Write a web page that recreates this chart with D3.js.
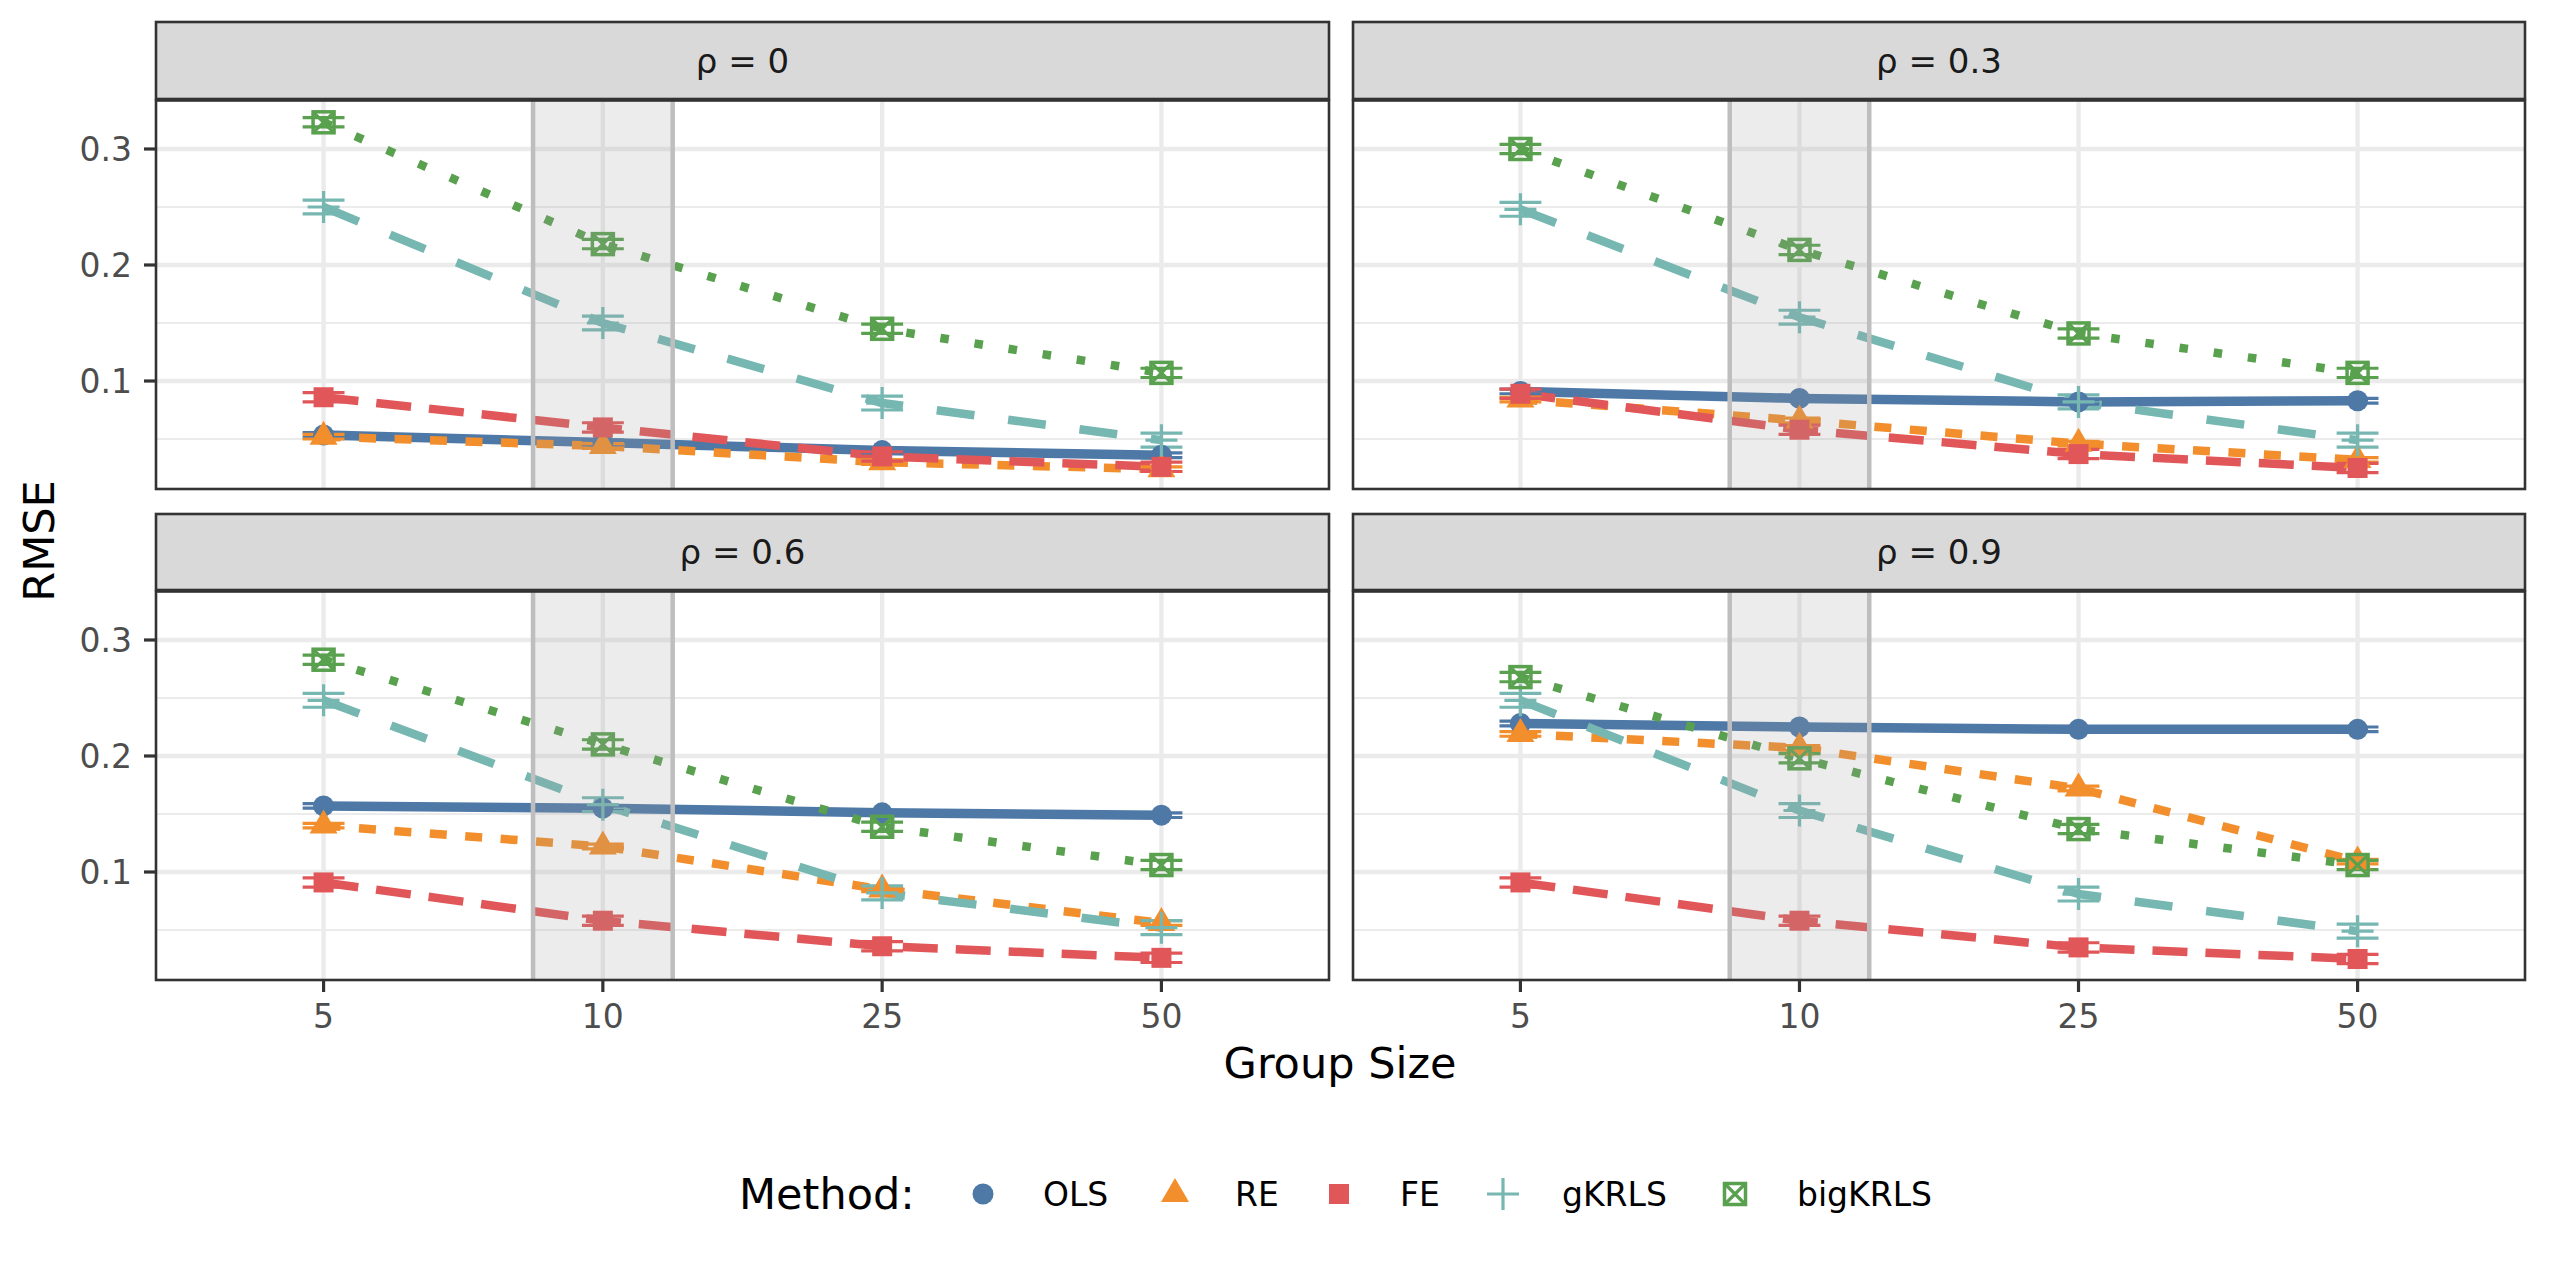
<!DOCTYPE html>
<html>
<head>
<meta charset="utf-8">
<script src="https://cdn.jsdelivr.net/npm/d3@7"></script>
<style>
  html, body { margin: 0; padding: 0; background: #ffffff; }
  svg { display: block; font-family: "DejaVu Sans", sans-serif; }
</style>
</head>
<body>
<svg id="chart" width="2550" height="1275"></svg>
<script>
// ---------------- DATA ----------------
const groupSizes = ["5", "10", "25", "50"];
const rhoLabels = ["ρ = 0", "ρ = 0.3", "ρ = 0.6", "ρ = 0.9"];
const methods = ["OLS", "RE", "FE", "gKRLS", "bigKRLS"];
const yTicks = [0.1, 0.2, 0.3];
const yMinorTicks = [0.05, 0.15, 0.25];
const highlightGroup = "10";

// RMSE by rho (rows) and group size (columns)
const olsRMSE = [
  [0.0535, 0.047, 0.040, 0.036],
  [0.091, 0.085, 0.082, 0.083],
  [0.157, 0.155, 0.151, 0.149],
  [0.228, 0.225, 0.223, 0.223]
];
const reRMSE = [
  [0.052, 0.044, 0.030, 0.024],
  [0.084, 0.066, 0.046, 0.032],
  [0.140, 0.122, 0.085, 0.056],
  [0.219, 0.207, 0.172, 0.109]
];
const feRMSE = [
  [0.086, 0.060, 0.035, 0.026],
  [0.089, 0.058, 0.037, 0.025],
  [0.091, 0.058, 0.036, 0.026],
  [0.091, 0.058, 0.035, 0.025]
];
const gkrlsRMSE = [
  [0.250, 0.150, 0.081, 0.049],
  [0.248, 0.155, 0.082, 0.049],
  [0.248, 0.158, 0.082, 0.052],
  [0.248, 0.153, 0.081, 0.049]
];
const bigkrlsRMSE = [
  [0.323, 0.218, 0.145, 0.107],
  [0.300, 0.213, 0.141, 0.107],
  [0.283, 0.210, 0.139, 0.106],
  [0.268, 0.198, 0.137, 0.106]
];
// half width of the interval around each estimate, per method
const intervalHalf = [0.002, 0.002, 0.004, 0.006, 0.004];

const seriesValues = [olsRMSE, reRMSE, feRMSE, gkrlsRMSE, bigkrlsRMSE];

// ---------------- STYLE ----------------
const colors = ["#4E79A7", "#F28E2B", "#E15759", "#76B7B2", "#59A14F"];
const dashes = [null, "17,18.5", "35,18", "38,34", "8.5,26"];
const lineWidths = [9.5, 8.5, 8.5, 8.5, 8.5];

const svg = d3.select("#chart");

const colX = [[156, 1329], [1353, 2525]];
const rowLayout = [
  { stripTop: 22, stripBottom: 99, top: 100.5, bottom: 489 },
  { stripTop: 514, stripBottom: 590, top: 591.5, bottom: 980 }
];
const yDomain = [0.0069, 0.3418];

const defs = svg.append("defs");

function drawSymbol(g, mi, cx, cy, color) {
  const s = g.append("g").attr("transform", `translate(${cx},${cy})`);
  if (mi === 0) {
    s.append("circle").attr("r", 10.5).attr("fill", color);
  } else if (mi === 1) {
    const side = 28, h = 24;
    s.append("path")
      .attr("d", `M0,${-h * 2 / 3}L${side / 2},${h / 3}L${-side / 2},${h / 3}Z`)
      .attr("fill", color);
  } else if (mi === 2) {
    s.append("rect").attr("x", -10).attr("y", -10).attr("width", 20).attr("height", 20).attr("fill", color);
  } else if (mi === 3) {
    s.append("path").attr("d", "M-16,0H16M0,-16V16")
      .attr("stroke", color).attr("stroke-width", 3.2).attr("fill", "none");
  } else {
    s.append("rect").attr("x", -10.5).attr("y", -10.5).attr("width", 21).attr("height", 21)
      .attr("stroke", color).attr("stroke-width", 3.5).attr("fill", "none");
    s.append("path").attr("d", "M-10.5,-10.5L10.5,10.5M10.5,-10.5L-10.5,10.5")
      .attr("stroke", color).attr("stroke-width", 3.2).attr("fill", "none");
  }
}

rhoLabels.forEach((label, pi) => {
  const row = Math.floor(pi / 2), col = pi % 2;
  const [x0, x1] = colX[col];
  const L = rowLayout[row];

  const x = d3.scalePoint().domain(groupSizes).range([x0, x1]).padding(0.6);
  const y = d3.scaleLinear().domain(yDomain).range([L.bottom, L.top]);
  const step = x.step();

  const clipId = "clip" + pi;
  defs.append("clipPath").attr("id", clipId)
    .append("rect").attr("x", x0).attr("y", L.top).attr("width", x1 - x0).attr("height", L.bottom - L.top);

  const g = svg.append("g");
  // panel background
  g.append("rect").attr("x", x0).attr("y", L.top).attr("width", x1 - x0).attr("height", L.bottom - L.top)
    .attr("fill", "#ffffff");

  const inner = g.append("g").attr("clip-path", `url(#${clipId})`);
  // minor grid
  inner.selectAll(".minor").data(yMinorTicks).join("line")
    .attr("x1", x0).attr("x2", x1).attr("y1", d => y(d)).attr("y2", d => y(d))
    .attr("stroke", "#ebebeb").attr("stroke-width", 2.2);
  // major grid
  inner.selectAll(".majorY").data(yTicks).join("line")
    .attr("x1", x0).attr("x2", x1).attr("y1", d => y(d)).attr("y2", d => y(d))
    .attr("stroke", "#ebebeb").attr("stroke-width", 4.3);
  inner.selectAll(".majorX").data(groupSizes).join("line")
    .attr("x1", d => x(d)).attr("x2", d => x(d)).attr("y1", L.top).attr("y2", L.bottom)
    .attr("stroke", "#ebebeb").attr("stroke-width", 4.3);

  // lines
  methods.forEach((m, mi) => {
    const vals = seriesValues[mi][pi];
    const line = d3.line().x((d, i) => x(groupSizes[i])).y(d => y(d));
    inner.append("path").attr("d", line(vals))
      .attr("fill", "none").attr("stroke", colors[mi])
      .attr("stroke-width", lineWidths[mi])
      .attr("stroke-dasharray", dashes[mi])
      .attr("stroke-linecap", "butt").attr("stroke-linejoin", "round");
  });
  // error bars
  methods.forEach((m, mi) => {
    const vals = seriesValues[mi][pi];
    const hw = 0.075 * step;
    vals.forEach((v, i) => {
      const cx = x(groupSizes[i]);
      const lo = y(v - intervalHalf[mi]), hi = y(v + intervalHalf[mi]);
      inner.append("path")
        .attr("d", `M${cx - hw},${hi}H${cx + hw}M${cx},${hi}V${lo}M${cx - hw},${lo}H${cx + hw}`)
        .attr("stroke", colors[mi]).attr("stroke-width", 3.2).attr("fill", "none");
    });
  });
  // points
  methods.forEach((m, mi) => {
    const vals = seriesValues[mi][pi];
    vals.forEach((v, i) => drawSymbol(inner, mi, x(groupSizes[i]), y(v), colors[mi]));
  });

  // highlight overlay for group size 10
  const hx0 = x(highlightGroup) - 0.25 * step, hx1 = x(highlightGroup) + 0.25 * step;
  inner.append("rect").attr("x", hx0).attr("y", L.top).attr("width", hx1 - hx0).attr("height", L.bottom - L.top)
    .attr("fill", "#a0a0a0").attr("fill-opacity", 0.2);
  inner.selectAll(".hl").data([hx0, hx1]).join("line")
    .attr("x1", d => d).attr("x2", d => d).attr("y1", L.top).attr("y2", L.bottom)
    .attr("stroke", "#bebebe").attr("stroke-width", 4.5);

  // panel border
  g.append("rect").attr("x", x0).attr("y", L.top).attr("width", x1 - x0).attr("height", L.bottom - L.top)
    .attr("fill", "none").attr("stroke", "#333333").attr("stroke-width", 2.6);

  // strip
  g.append("rect").attr("x", x0).attr("y", L.stripTop).attr("width", x1 - x0).attr("height", L.stripBottom - L.stripTop)
    .attr("fill", "#d9d9d9").attr("stroke", "#333333").attr("stroke-width", 2.6);
  g.append("text").attr("x", (x0 + x1) / 2).attr("y", (L.stripTop + L.stripBottom) / 2 + 12)
    .attr("text-anchor", "middle").attr("font-size", 34).attr("fill", "#1a1a1a")
    .text(label);

  // y axis on left column
  if (col === 0) {
    const ya = g.append("g");
    yTicks.forEach(t => {
      ya.append("line").attr("x1", x0 - 12).attr("x2", x0).attr("y1", y(t)).attr("y2", y(t))
        .attr("stroke", "#333333").attr("stroke-width", 3.2);
      ya.append("text").attr("x", x0 - 24).attr("y", y(t) + 12).attr("text-anchor", "end")
        .attr("font-size", 33).attr("fill", "#4d4d4d").text(t.toFixed(1));
    });
  }
  // x axis on bottom row
  if (row === 1) {
    const xa = g.append("g");
    groupSizes.forEach(gs => {
      xa.append("line").attr("x1", x(gs)).attr("x2", x(gs)).attr("y1", L.bottom).attr("y2", L.bottom + 12)
        .attr("stroke", "#333333").attr("stroke-width", 3.2);
      xa.append("text").attr("x", x(gs)).attr("y", 1028).attr("text-anchor", "middle")
        .attr("font-size", 33).attr("fill", "#4d4d4d").text(gs);
    });
  }
});

// axis titles
svg.append("text").attr("x", 1340).attr("y", 1078).attr("text-anchor", "middle")
  .attr("font-size", 43).attr("fill", "#000").text("Group Size");
svg.append("text").attr("transform", "translate(54,541) rotate(-90)").attr("text-anchor", "middle")
  .attr("font-size", 43).attr("fill", "#000").text("RMSE");

// legend
const legY = 1194;
svg.append("text").attr("x", 739).attr("y", legY + 15).attr("font-size", 43).attr("fill", "#000").text("Method:");
const keyX = [983, 1175, 1339, 1503, 1735];
const labX = [1043, 1235, 1400, 1562, 1797];
const legG = svg.append("g");
methods.forEach((m, mi) => {
  drawSymbol(legG, mi, keyX[mi], legY, colors[mi]);
  legG.append("text").attr("x", labX[mi]).attr("y", legY + 12).attr("font-size", 33).attr("fill", "#000").text(m);
});
</script>
</body>
</html>
